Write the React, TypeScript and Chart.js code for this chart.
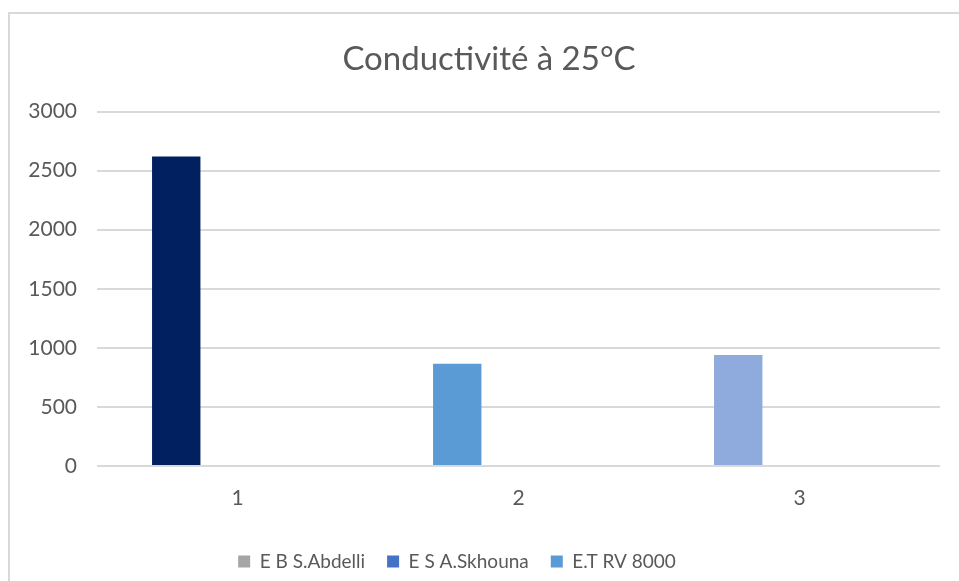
import { useEffect, useRef } from 'react';
import { Chart, registerables } from 'chart.js';

Chart.register(...registerables);

// Sample sites (x categories) and the series shown in the legend
const categories = ['1', '2', '3'];
const seriesNames = ['E B S.Abdelli', 'E S A.Skhouna', 'E.T RV 8000'];
const seriesColors = ['#A5A5A5', '#4472C4', '#5B9BD5'];

// Conductivity at 25°C (µS/cm), one bar per site, each with its own fill
const conductivity = [2620, 865, 940];
const barColors = ['#002060', '#5B9BD5', '#8FAADC'];

const yMin = 0;
const yMax = 3000;
const yStep = 500;

const FONT = 'Lato, "Open Sans", sans-serif';
const TEXT = '#595959';

// Nudges the title and legend boxes horizontally after layout
const blockOffsets = {
  id: 'blockOffsets',
  afterLayout(chart: any) {
    const title = chart.titleBlock;
    if (title) {
      title.left += 14;
      title.right += 14;
    }
    const legend = chart.legend;
    if (legend) {
      legend.left -= 18;
      legend.right -= 18;
    }
  },
};

export default function App() {
  const canvasRef = useRef<HTMLCanvasElement>(null);

  useEffect(() => {
    if (!canvasRef.current) return;
    const chart = new Chart(canvasRef.current, {
      type: 'bar',
      data: {
        labels: categories,
        datasets: seriesNames.map((name, i) => ({
          label: name,
          data: i === 0 ? conductivity : categories.map(() => null),
          backgroundColor: i === 0 ? barColors : seriesColors[i],
          borderWidth: 0,
          categoryPercentage: 0.654,
          barPercentage: 0.79,
        })),
      },
      plugins: [blockOffsets],
      options: {
        responsive: false,
        animation: false,
        layout: { padding: { top: 0, left: 0, right: 19, bottom: 0 } },
        plugins: {
          title: {
            display: true,
            text: 'Conductivité à 25°C',
            color: TEXT,
            font: { family: FONT, size: 33, weight: 'normal' },
            padding: { top: 26, bottom: 32 },
          },
          legend: {
            position: 'bottom',
            labels: {
              boxWidth: 12,
              boxHeight: 12,
              padding: 22,
              color: TEXT,
              font: { family: FONT, size: 19 },
              generateLabels: () =>
                seriesNames.map((text, i) => ({
                  text,
                  fillStyle: seriesColors[i],
                  strokeStyle: seriesColors[i],
                  lineWidth: 0,
                  hidden: false,
                  datasetIndex: i,
                  fontColor: TEXT,
                })),
            },
          },
          tooltip: { enabled: false },
        },
        scales: {
          x: {
            grid: { display: false, drawTicks: false },
            border: { display: false },
            ticks: { color: TEXT, font: { family: FONT, size: 21 }, padding: 20 },
            afterFit: (scale: any) => {
              scale.height = 64;
            },
          },
          y: {
            min: yMin,
            max: yMax,
            ticks: {
              stepSize: yStep,
              color: TEXT,
              font: { family: FONT, size: 21 },
              padding: 20,
              callback: (value: any) => String(value),
            },
            grid: { color: '#D9D9D9', lineWidth: 2, drawTicks: false },
            border: { display: false },
            afterFit: (scale: any) => {
              scale.width = 87;
            },
          },
        },
      },
    });
    return () => chart.destroy();
  }, []);

  return (
    <div
      style={{
        position: 'fixed',
        left: 8,
        top: 12,
        width: 1000,
        height: 600,
        border: '2px solid #D9D9D9',
        background: '#FFFFFF',
      }}
    >
      <canvas ref={canvasRef} width={949} height={567} style={{ display: 'block' }} />
    </div>
  );
}
